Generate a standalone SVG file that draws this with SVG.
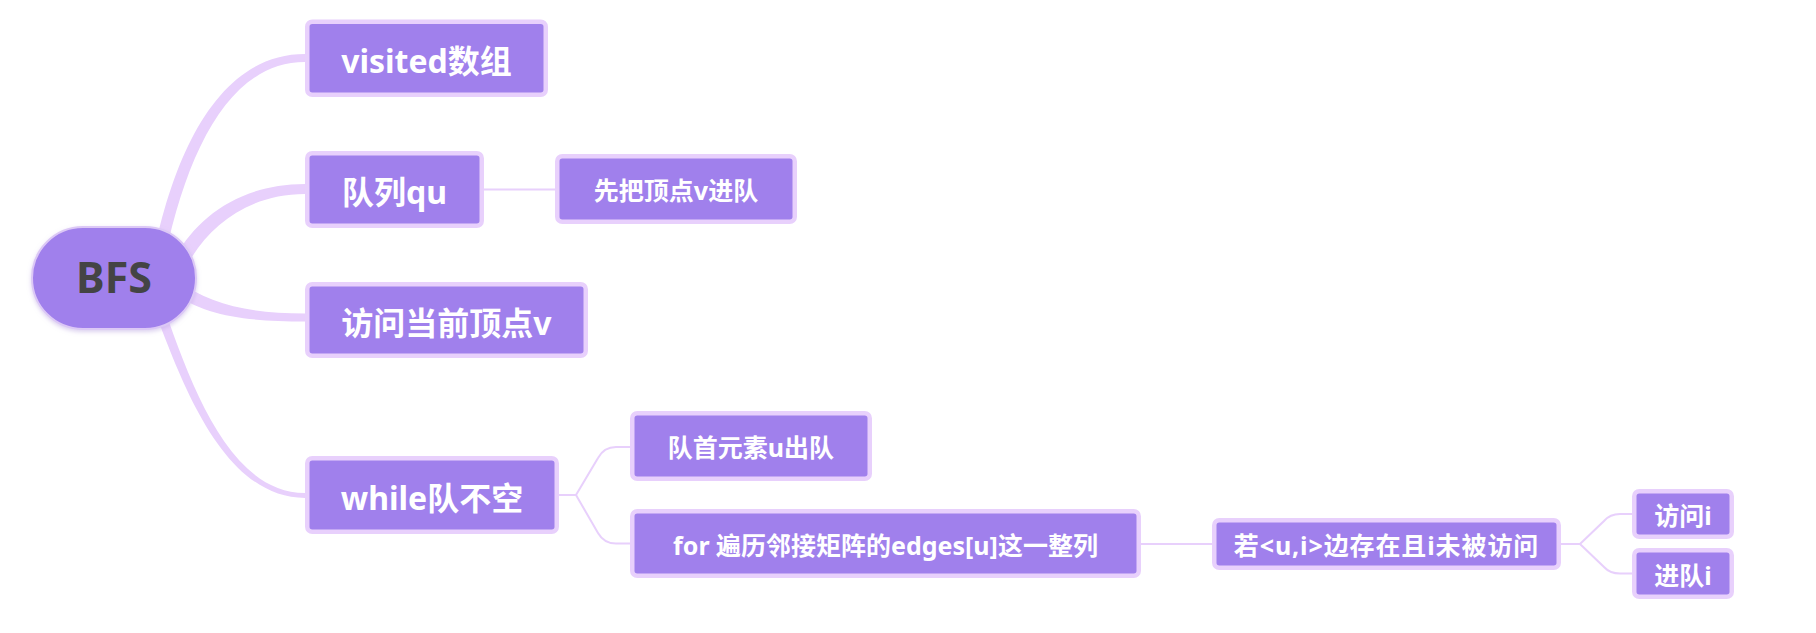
<svg xmlns="http://www.w3.org/2000/svg" width="1816" height="633" viewBox="0 0 1816 633">
<style>
.box{fill:#a080ec;stroke:#e8d0fc;stroke-width:4.5}
.t1{font-family:"Noto Sans","Noto Sans CJK SC",sans-serif;font-weight:bold;font-size:32px;fill:#ffffff;text-anchor:middle;dominant-baseline:central}
.t2{font-family:"Noto Sans","Noto Sans CJK SC",sans-serif;font-weight:bold;font-size:25px;fill:#ffffff;text-anchor:middle;dominant-baseline:central}
.br{fill:#e8d0fc;stroke:none}
.ln{fill:none;stroke:#e8d0fc;stroke-width:2}
</style>
<defs>
<filter id="sh" x="-20%" y="-20%" width="140%" height="150%">
<feDropShadow dx="0" dy="2" stdDeviation="2" flood-color="#b9a3e0" flood-opacity="0.5"/>
</filter>
</defs>
<rect width="1816" height="633" fill="#ffffff"/>
<g id="connectors">
<path class="br" d="M152 262 C174 150 220 54 305 54 L305 62 C230 62 187 150 164 262 Z"/>
<path class="br" d="M170 268 C190 222 236 184 305 184 L305 194 C242 194 200 234 182 276 Z"/>
<path class="br" d="M176 280 C210 304 248 313.5 305 313.5 L305 321.5 C246 321.5 205 316 172 292 Z"/>
<path class="br" d="M151.4 301.9 C181.3 381.5 222.6 497.8 305 498 L305 493 C227.4 493.2 188.7 378.5 160.6 298.1 Z"/>
<path class="ln" d="M484 189.5 L555 189.5"/>
<path class="ln" d="M559 495 L576 495 L598 458 Q604 447 616 447 L630 447"/>
<path class="ln" d="M576 495 L598 533 Q604 543.5 616 543.5 L630 543.5"/>
<path class="ln" d="M1141 544 L1212 544"/>
<path class="ln" d="M1561 544 L1580 544 L1604 521 Q1610 514 1620 514 L1632 514"/>
<path class="ln" d="M1580 544 L1604 567 Q1610 573.5 1620 573.5 L1632 573.5"/>
</g>
<g id="root">
<rect x="32" y="227" width="164" height="102" rx="51" fill="#a080ec" stroke="#dcc8f6" stroke-width="2" filter="url(#sh)"/>
<text x="114" y="293" font-family="Noto Sans, sans-serif" font-weight="bold" font-size="43" fill="#444444" text-anchor="middle">BFS</text>
</g>
<g id="n-visited">
<rect class="box" x="307.25" y="21.75" width="238.5" height="73" rx="5"/>
<text class="t1" x="426.5" y="60">visited数组</text>
</g>
<g id="n-queue">
<rect class="box" x="307.25" y="153.25" width="174.5" height="72.5" rx="5"/>
<text class="t1" x="394.5" y="191">队列qu</text>
</g>
<g id="n-visit">
<rect class="box" x="307.25" y="284.25" width="278.5" height="71.5" rx="5"/>
<text class="t1" x="446.5" y="322">访问当前顶点v</text>
</g>
<g id="n-while">
<rect class="box" x="307.25" y="458.25" width="249.5" height="73.5" rx="5"/>
<text class="t1" x="432" y="497">while队不空</text>
</g>
<g id="n-push">
<rect class="box" x="557.25" y="156.25" width="237.5" height="65.5" rx="5"/>
<text class="t2" x="676" y="190">先把顶点v进队</text>
</g>
<g id="n-pop">
<rect class="box" x="632.25" y="413.25" width="237.5" height="65.5" rx="5"/>
<text class="t2" x="751" y="447">队首元素u出队</text>
</g>
<g id="n-for">
<rect class="box" x="632.25" y="511.25" width="506.5" height="64.5" rx="5"/>
<text class="t2" x="885.5" y="544.5">for 遍历邻接矩阵的edges[u]这一整列</text>
</g>
<g id="n-if">
<rect class="box" x="1214.25" y="520.25" width="344.5" height="47.5" rx="5"/>
<text class="t2" x="1386.5" y="545" letter-spacing="0.9">若&lt;u,i&gt;边存在且i未被访问</text>
</g>
<g id="n-visit-i">
<rect class="box" x="1634.25" y="491.25" width="97.5" height="45.5" rx="5"/>
<text class="t2" x="1683" y="515">访问i</text>
</g>
<g id="n-push-i">
<rect class="box" x="1634.25" y="550.25" width="97.5" height="46.5" rx="5"/>
<text class="t2" x="1683" y="574.5">进队i</text>
</g>
</svg>
